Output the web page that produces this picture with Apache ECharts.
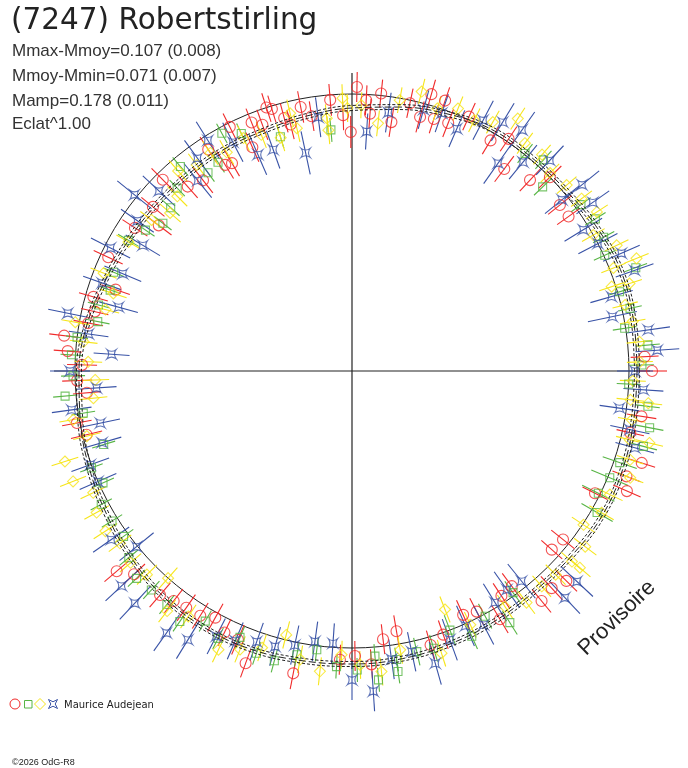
<!DOCTYPE html>
<html>
<head>
<meta charset="utf-8">
<script src="https://cdn.jsdelivr.net/npm/echarts@6/dist/echarts.min.js"></script>
<style>
html, body { margin: 0; padding: 0; background: #fff; }
#chart { width: 688px; height: 768px; }
</style>
</head>
<body>
<div id="chart"></div>
<script>
// each point: [phase angle in degrees, radius, radial error]
const redPoints = [
  [0, 300, 15], [2.8, 293, 14], [35.5, 266, 14], [38.6, 266, 15], [44.4, 277, 16], [47, 261, 15],
  [53, 253, 16], [56, 280, 15], [59, 269, 16], [65.3, 280, 15], [68.8, 266, 15], [71, 286, 14],
  [72, 265, 15], [74, 288, 15], [75, 263, 16], [77.8, 274, 15], [81, 252, 15], [84, 279, 14],
  [86, 258, 15], [87, 271, 15], [89, 284, 15], [90.3, 239, 16],
  [92, 256, 15], [94.6, 272, 16], [99, 258, 15], [101, 269, 16], [104, 254, 15], [105, 262, 15],
  [107, 274, 14], [108, 277, 15], [110, 262, 16], [112, 268, 15], [114, 245, 16], [116.6, 273, 15],
  [120, 240, 15], [121.6, 242, 16], [123, 264, 15], [128, 242, 16], [131.7, 247, 15], [134.7, 269, 16],
  [140.5, 258, 15], [143, 242, 16], [146.6, 260, 15], [155, 269, 16], [161, 250, 15], [164, 269, 15],
  [167, 264, 14], [169.7, 268, 15], [173, 290, 15], [176, 285, 14], [178.7, 270, 15],
  [182, 275, 15], [184.7, 266, 14], [190.7, 280, 15], [193.5, 273, 16], [220.4, 309, 16], [223, 298, 15],
  [229.4, 295, 16], [232.2, 291, 15], [235, 289, 16], [238.2, 288, 15], [241, 282, 16], [244, 291, 15],
  [247, 292, 16], [250, 311, 15], [259, 308, 16], [267.6, 289, 15],
  [270.6, 285, 15], [273.8, 294, 15], [276.6, 270, 15], [279.7, 264, 16], [286, 285, 15], [289.1, 279, 15],
  [294.5, 268, 16], [297.4, 271, 15], [300.8, 289, 16], [303.6, 270, 15], [306.6, 268, 16], [309.5, 298, 15],
  [312.6, 295, 16], [315.6, 300, 15], [318.2, 268, 14], [321.4, 270, 15], [333.3, 272, 14], [336.4, 300, 15],
  [339, 294, 15], [342.4, 304, 14], [347.5, 285, 14], [351.1, 293, 15]
];
const greenPoints = [
  [1.2, 290, 12], [5, 297, 12], [8.9, 276, 12], [12.7, 285, 12], [16.5, 279, 12], [20, 302, 12],
  [24.6, 278, 12], [28, 285, 12], [32, 287, 12], [36, 283, 12], [44, 265, 12], [47.8, 285, 12],
  [51.5, 278, 12],
  [95, 242, 12], [107, 245, 12], [115, 262, 11], [118.7, 271, 11], [122.7, 248, 12], [126, 245, 11],
  [130, 267, 12], [133.7, 253, 11], [138, 244, 12], [142, 240, 11], [145.7, 250, 11], [149.7, 259, 12],
  [157.5, 258, 11], [161.5, 255, 11], [165.4, 262, 11], [169, 259, 12], [173, 277, 11], [176.7, 281, 11],
  [181, 279, 12], [185, 288, 12], [188.9, 272, 12], [196.5, 259, 12], [200.4, 278, 12], [204.2, 273, 12],
  [208, 284, 12], [212, 283, 12], [215.9, 282, 12], [219.9, 291, 12], [223.9, 299, 12], [227.5, 297, 12],
  [231.6, 298, 12], [235.5, 304, 12], [239.6, 290, 12], [243.4, 299, 12], [247.2, 289, 12], [251.3, 298, 12],
  [255, 300, 12], [259, 289, 12], [262.8, 281, 12], [267, 296, 12],
  [271, 299, 12], [274.6, 286, 12], [274.9, 310, 12], [278.7, 304, 12], [278.8, 292, 12], [283, 288, 14],
  [286.4, 289, 14], [290.7, 277, 16], [294.3, 291, 14], [298.5, 279, 14], [302.1, 297, 14], [306, 274, 14],
  [330, 283, 18], [333.6, 275, 18], [337.5, 279, 20], [341.1, 283, 18], [345.5, 301, 14], [349.2, 303, 14],
  [353.2, 298, 12], [357.3, 277, 12]
];
const yellowPoints = [
  [1.8, 288, 13], [5.8, 289, 13], [10, 285, 13], [13.6, 281, 13], [17.5, 291, 13], [18, 273, 13],
  [21.5, 281, 13], [21.6, 306, 13], [25.4, 293, 13], [29.4, 277, 13], [33, 292, 13], [36.9, 287, 13],
  [40.9, 284, 13], [45, 280, 13], [48.7, 288, 13], [52.8, 286, 13], [56.7, 302, 13], [60.5, 286, 13],
  [64, 279, 13], [68, 283, 13], [72, 276, 13], [76, 288, 13], [80, 275, 13], [84, 249, 13], [88, 266, 13],
  [91, 263, 14], [92, 273, 14], [95.6, 242, 14], [95.7, 254, 14], [102.8, 249, 14], [103.5, 265, 14],
  [107, 244, 14], [111, 253, 14], [115, 257, 14], [119.8, 252, 14], [123, 260, 14], [127, 258, 14],
  [131, 265, 14], [135, 247, 14], [139, 241, 14], [143, 251, 14], [150, 258, 14], [158.5, 267, 14],
  [162, 251, 14], [166, 254, 14], [170, 281, 14], [173.8, 270, 14], [178, 264, 14],
  [182, 257, 14], [186, 260, 14], [189.9, 283, 14], [193.8, 273, 14], [197.5, 301, 14], [201.6, 300, 14],
  [205.2, 286, 14], [209, 292, 14], [213, 294, 14], [216.6, 289, 14], [220.9, 293, 14], [224.8, 289, 14],
  [228.4, 277, 14], [232.4, 303, 14], [236.3, 295, 14], [244.4, 309, 14], [248.1, 300, 14], [252, 291, 14],
  [256, 272, 14], [259.8, 293, 14], [263.9, 302, 14], [267.9, 284, 14],
  [271.6, 294, 14], [275.6, 302, 14], [279.8, 283, 14], [287.6, 296, 14], [291.3, 256, 14], [295, 280, 14],
  [303, 281, 14], [307, 290, 14], [311.4, 287, 14], [315, 288, 14], [319.1, 291, 14], [319.2, 301, 14],
  [323, 292, 14], [326.4, 278, 14], [330.4, 287, 14], [334.4, 286, 14], [339, 298, 14], [342.3, 292, 14],
  [346.1, 286, 14], [346.4, 306, 14], [350.1, 284, 14], [353.8, 298, 14], [354.1, 280, 14], [358, 281, 13]
];
const bluePoints = [
  [0, 283, 18], [3.9, 306, 22], [7.9, 299, 22], [11.8, 266, 25], [16, 270, 22], [19.6, 300, 20],
  [23.6, 294, 20], [27.4, 277, 22], [31.4, 271, 22], [35, 294, 20], [39, 296, 22], [39.2, 271, 22],
  [46.8, 289, 20], [50.7, 270, 22], [54.8, 295, 22], [54.9, 254, 25], [58.8, 291, 22], [62.4, 283, 22],
  [66.6, 264, 20], [70.8, 273, 20], [74.7, 271, 20], [82, 261, 20], [86.5, 240, 18],
  [97.6, 256, 20], [102, 223, 22], [109.6, 235, 20], [113.5, 236, 22], [117.5, 258, 22], [122, 272, 22],
  [126, 263, 22], [129, 245, 22], [137, 264, 22], [141, 280, 22], [145, 262, 20], [149, 244, 20],
  [153, 271, 22], [157, 249, 20], [160.6, 265, 20], [164.7, 242, 20], [168.5, 290, 20], [172, 266, 20],
  [176, 241, 18], [180, 282, 20],
  [183.8, 256, 20], [187.9, 283, 20], [191.7, 257, 20], [196, 260, 20], [199.7, 278, 20], [203.5, 277, 20],
  [215, 294, 22], [219.2, 278, 22], [223, 315, 22], [226.9, 318, 22], [234.7, 321, 22], [238.6, 315, 22],
  [242.9, 298, 20], [246.6, 294, 20], [250.6, 287, 20], [254.4, 286, 20], [258.2, 280, 20], [262.2, 273, 20],
  [266, 273, 20], [270, 309, 20],
  [273.8, 321, 20], [277.8, 291, 20], [282, 287, 20], [285.9, 304, 22], [290, 286, 22], [294, 279, 22],
  [297.4, 286, 22], [301.7, 272, 22], [305.3, 268, 22], [308.9, 270, 22], [313.2, 311, 22], [316.9, 308, 22],
  [344.8, 293, 20], [348.1, 284, 20], [352.1, 270, 20], [356.3, 292, 20]
];

// fitted light curve, read every 10 degrees
const fitAngles = [0, 10, 20, 30, 40, 50, 60, 70, 80, 90, 100, 110, 120, 130, 140, 150, 160, 170, 180,
  190, 200, 210, 220, 230, 240, 250, 260, 270, 280, 290, 300, 310, 320, 330, 340, 350, 360];
const fitRadii = [285, 286, 287, 284, 280, 279, 279, 274, 268, 263, 259, 256, 256, 256, 257, 259, 263, 269, 273,
  276, 280, 284, 289, 294, 296, 296, 294, 293, 292, 290, 288, 286, 287, 289, 288, 286, 285];
const FIT_SPREAD = 2.5;
const MEAN_RADIUS = 277;
const AXIS_LENGTH = 298;

const infoLines = [
  "Mmax-Mmoy=0.107 (0.008)",
  "Mmoy-Mmin=0.071 (0.007)",
  "Mamp=0.178 (0.011)",
  "Eclat^1.00"
];

const RED = "#f02a2a";
const GREEN = "#58b545";
const YELLOW = "#f6e51a";
const BLUE = "#3852a6";
const INK = "#222";
const STAR = "path://M0,0 Q5,3.6 10,0 Q6.4,5 10,10 Q5,6.4 0,10 Q3.6,5 0,0 Z";

function errorBars(points, color) {
  return {
    type: "custom",
    coordinateSystem: "polar",
    silent: true,
    data: points.map(p => [p[1], p[0], p[2]]),
    renderItem(params, api) {
      const r = api.value(0), a = api.value(1), e = api.value(2);
      const p1 = api.coord([r - e, a]);
      const p2 = api.coord([r + e, a]);
      return {
        type: "line",
        shape: { x1: p1[0], y1: p1[1], x2: p2[0], y2: p2[1] },
        style: { stroke: color, lineWidth: 1.1 }
      };
    }
  };
}

function marks(points, color, symbol, size) {
  return {
    type: "scatter",
    coordinateSystem: "polar",
    silent: true,
    symbol: symbol,
    symbolSize: size,
    data: points.map(p => [p[1], p[0]]),
    itemStyle: { color: "rgba(0,0,0,0)", borderColor: color, borderWidth: 1.1 }
  };
}

function fitLine(offset, dash) {
  return {
    type: "line",
    coordinateSystem: "polar",
    silent: true,
    smooth: 0.4,
    showSymbol: false,
    data: fitRadii.map((r, i) => [r + offset, fitAngles[i]]),
    lineStyle: { color: INK, width: 1, type: dash }
  };
}

const chart = echarts.init(document.querySelector("#chart"), null, { renderer: "canvas" });

const graphics = [
  {
    type: "text", x: 11, y: 21,
    style: { text: "(7247) Robertstirling", fontSize: 29.5, fontFamily: "DejaVu Sans", fill: INK, textVerticalAlign: "middle" }
  },
  {
    type: "text", x: 617, y: 618, rotation: 44 * Math.PI / 180,
    style: { text: "Provisoire", fontSize: 22, fontFamily: "Liberation Sans", fill: INK, textAlign: "center", textVerticalAlign: "middle" }
  },
  {
    type: "circle", shape: { cx: 15, cy: 704, r: 5 },
    style: { fill: "none", stroke: RED, lineWidth: 1 }
  },
  {
    type: "rect", shape: { x: 24.5, y: 700.5, width: 7.5, height: 7.5 },
    style: { fill: "none", stroke: GREEN, lineWidth: 1 }
  },
  {
    type: "polygon", shape: { points: [[40, 698.5], [45.5, 704], [40, 709.5], [34.5, 704]] },
    style: { fill: "none", stroke: YELLOW, lineWidth: 1 }
  },
  {
    type: "polygon",
    shape: { points: [[48.5, 699.5], [53, 701.8], [57.5, 699.5], [55.2, 704], [57.5, 708.5], [53, 706.2], [48.5, 708.5], [50.8, 704]] },
    style: { fill: "none", stroke: BLUE, lineWidth: 1 }
  },
  {
    type: "text", x: 64, y: 705.5,
    style: { text: "Maurice Audejean", fontSize: 10, fontFamily: "DejaVu Sans", fill: INK, textVerticalAlign: "middle" }
  },
  {
    type: "text", x: 12, y: 763,
    style: { text: "©2026 OdG-R8", fontSize: 9, fontFamily: "Liberation Sans", fill: INK, textVerticalAlign: "middle" }
  }
];
infoLines.forEach((line, i) => {
  graphics.push({
    type: "text", x: 12, y: [51.5, 76.5, 101.5, 124.5][i],
    style: { text: line, fontSize: 17, fontFamily: "Liberation Sans", fill: "#333", textVerticalAlign: "middle" }
  });
});

chart.setOption({
  animation: false,
  backgroundColor: "#fff",
  polar: { center: [352, 371], radius: 340 },
  angleAxis: { type: "value", min: 0, max: 360, startAngle: 0, clockwise: false, show: false },
  radiusAxis: { type: "value", min: 0, max: 340, show: false },
  graphic: graphics,
  series: [
    {
      type: "custom",
      coordinateSystem: "polar",
      silent: true,
      data: [[0, 0]],
      renderItem(params, api) {
        const e = api.coord([AXIS_LENGTH, 0]), w = api.coord([AXIS_LENGTH, 180]);
        const n = api.coord([AXIS_LENGTH, 90]), s = api.coord([AXIS_LENGTH, 270]);
        return {
          type: "group",
          children: [
            { type: "line", shape: { x1: w[0], y1: w[1], x2: e[0], y2: e[1] }, style: { stroke: INK, lineWidth: 1.2 } },
            { type: "line", shape: { x1: n[0], y1: n[1], x2: s[0], y2: s[1] }, style: { stroke: INK, lineWidth: 1.2 } }
          ]
        };
      }
    },
    {
      type: "custom",
      coordinateSystem: "polar",
      silent: true,
      data: [[0, 0]],
      renderItem(params, api) {
        const c = api.coord([0, 0]);
        const p = api.coord([MEAN_RADIUS, 0]);
        return {
          type: "circle",
          shape: { cx: c[0], cy: c[1], r: Math.hypot(p[0] - c[0], p[1] - c[1]) },
          style: { fill: "none", stroke: INK, lineWidth: 1 }
        };
      }
    },
    fitLine(0, [7, 3]),
    fitLine(-FIT_SPREAD, [3, 2]),
    fitLine(FIT_SPREAD, [3, 2]),
    errorBars(redPoints, RED),
    marks(redPoints, RED, "circle", 11),
    errorBars(greenPoints, GREEN),
    marks(greenPoints, GREEN, "rect", 8),
    errorBars(yellowPoints, YELLOW),
    marks(yellowPoints, YELLOW, "diamond", 11),
    errorBars(bluePoints, BLUE),
    marks(bluePoints, BLUE, STAR, 9)
  ]
});
</script>
</body>
</html>
